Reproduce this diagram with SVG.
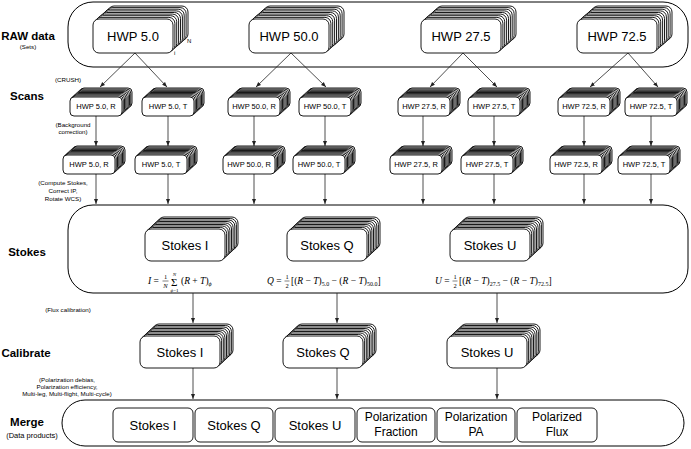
<svg xmlns="http://www.w3.org/2000/svg" xmlns:xlink="http://www.w3.org/1999/xlink" width="691" height="449" viewBox="0 0 691 449">
<style>
text{font-family:"Liberation Sans",Arial,sans-serif;fill:#000}
.title{font-weight:bold;font-size:11.5px;text-anchor:middle}
.note{font-size:6.2px;text-anchor:middle}
.big{font-size:13px;text-anchor:middle}
.mid{font-size:12px;text-anchor:middle}
.small{font-size:7.5px;text-anchor:middle}
.math{font-family:"Liberation Serif","Times New Roman",serif;font-size:9.5px}
.it{font-style:italic}
.box{fill:#fff;stroke:#000;stroke-width:0.9}
.cont{fill:none;stroke:#000;stroke-width:1}
.arrow{stroke:#222;stroke-width:0.8;fill:none;marker-end:url(#ah)}
.frac{stroke:#000;stroke-width:0.5}
</style>
<defs>
<marker id="ah" viewBox="0 0 10 10" refX="10" refY="5" markerWidth="5" markerHeight="5" markerUnits="userSpaceOnUse" orient="auto">
<path d="M0,1 L10,5 L0,9 z" fill="#222"/>
</marker>
<g id="stkBig">
<rect class="box" x="15" y="-13" width="80" height="34" rx="6"/>
<rect class="box" x="13.1" y="-11.4" width="80" height="34" rx="6"/>
<rect class="box" x="11.2" y="-9.8" width="80" height="34" rx="6"/>
<rect class="box" x="9.4" y="-8.1" width="80" height="34" rx="6"/>
<rect class="box" x="7.5" y="-6.5" width="80" height="34" rx="6"/>
<rect class="box" x="5.6" y="-4.9" width="80" height="34" rx="6"/>
<rect class="box" x="3.7" y="-3.3" width="80" height="34" rx="6"/>
<rect class="box" x="1.9" y="-1.6" width="80" height="34" rx="6"/>
<rect class="box" x="0" y="0" width="80" height="34" rx="6"/>
</g>
<g id="stkStokes">
<rect class="box" x="13" y="-12" width="80" height="32" rx="6"/>
<rect class="box" x="11.4" y="-10.5" width="80" height="32" rx="6"/>
<rect class="box" x="9.8" y="-9" width="80" height="32" rx="6"/>
<rect class="box" x="8.1" y="-7.5" width="80" height="32" rx="6"/>
<rect class="box" x="6.5" y="-6" width="80" height="32" rx="6"/>
<rect class="box" x="4.9" y="-4.5" width="80" height="32" rx="6"/>
<rect class="box" x="3.3" y="-3" width="80" height="32" rx="6"/>
<rect class="box" x="1.6" y="-1.5" width="80" height="32" rx="6"/>
<rect class="box" x="0" y="0" width="80" height="32" rx="6"/>
</g>
<g id="stkSmall">
<rect class="box" x="10" y="-9" width="52" height="19" rx="4"/>
<rect class="box" x="8.75" y="-7.9" width="52" height="19" rx="4"/>
<rect class="box" x="7.5" y="-6.75" width="52" height="19" rx="4"/>
<rect class="box" x="6.25" y="-5.6" width="52" height="19" rx="4"/>
<rect class="box" x="5" y="-4.5" width="52" height="19" rx="4"/>
<rect class="box" x="3.75" y="-3.4" width="52" height="19" rx="4"/>
<rect class="box" x="2.5" y="-2.25" width="52" height="19" rx="4"/>
<rect class="box" x="1.25" y="-1.1" width="52" height="19" rx="4"/>
<rect class="box" x="0" y="0" width="52" height="19" rx="4"/>
</g>
</defs>

<!-- stage labels -->
<g id="labels">
<text class="title" x="28" y="40">RAW data</text>
<text class="note" x="28" y="49">(Sets)</text>
<text class="note" x="68" y="82">(CRUSH)</text>
<text class="title" x="27" y="100">Scans</text>
<text class="note" x="73" y="127">(Background</text>
<text class="note" x="73" y="134">correction)</text>
<text class="note" x="63" y="185">(Compute Stokes,</text>
<text class="note" x="63" y="193">Correct IP,</text>
<text class="note" x="63" y="201">Rotate WCS)</text>
<text class="title" x="27" y="256">Stokes</text>
<text class="note" x="68" y="312">(Flux calibration)</text>
<text class="title" x="26" y="357">Calibrate</text>
<text class="note" x="67" y="382">(Polarization debias,</text>
<text class="note" x="67" y="389">Polarization efficiency,</text>
<text class="note" x="67" y="396">Multi-leg, Multi-flight, Multi-cycle)</text>
<text class="title" x="27" y="426">Merge</text>
<text class="note" x="32" y="437.5" style="font-size:7.5px">(Data products)</text>
</g>

<!-- containers -->
<g id="raw-container"><rect class="cont" x="68" y="2" width="620" height="65" rx="25"/></g>
<g id="stokes-container"><rect class="cont" x="68" y="205" width="620" height="88" rx="25"/></g>
<g id="merge-container"><rect class="cont" x="62" y="400" width="622" height="46" rx="23"/></g>

<!-- connectors -->
<g id="connectors">
<path class="arrow" d="M135,53 L100,87"/>
<path class="arrow" d="M135,53 L167,87"/>
<path class="arrow" d="M291,53 L256,87"/>
<path class="arrow" d="M291,53 L326,87"/>
<path class="arrow" d="M463,53 L430,87"/>
<path class="arrow" d="M463,53 L497,87"/>
<path class="arrow" d="M628,53 L590,87"/>
<path class="arrow" d="M628,53 L658,87"/>
<path class="arrow" d="M96,116 V146"/>
<path class="arrow" d="M168,116 V146"/>
<path class="arrow" d="M254,116 V146"/>
<path class="arrow" d="M325,116 V146"/>
<path class="arrow" d="M423,116 V146"/>
<path class="arrow" d="M494,116 V146"/>
<path class="arrow" d="M584,116 V146"/>
<path class="arrow" d="M651,116 V146"/>
<path class="arrow" d="M96,174 V204"/>
<path class="arrow" d="M168,174 V204"/>
<path class="arrow" d="M254,174 V204"/>
<path class="arrow" d="M325,174 V204"/>
<path class="arrow" d="M423,174 V204"/>
<path class="arrow" d="M494,174 V204"/>
<path class="arrow" d="M584,174 V204"/>
<path class="arrow" d="M651,174 V204"/>
<path class="arrow" d="M193,293 V323"/>
<path class="arrow" d="M337,293 V323"/>
<path class="arrow" d="M497,293 V323"/>
<path class="arrow" d="M193,368 V399"/>
<path class="arrow" d="M337,368 V399"/>
<path class="arrow" d="M497,368 V399"/>
</g>

<!-- RAW nodes -->
<g id="raw-hwp5"><use xlink:href="#stkBig" x="93" y="19"/><text class="big" x="133" y="41">HWP 5.0</text>
<text x="187" y="43" style="font-size:6px">N</text><text x="174" y="55" style="font-size:6px">i</text></g>
<g id="raw-hwp50"><use xlink:href="#stkBig" x="249" y="19"/><text class="big" x="289" y="41">HWP 50.0</text></g>
<g id="raw-hwp27"><use xlink:href="#stkBig" x="421" y="19"/><text class="big" x="461" y="41">HWP 27.5</text></g>
<g id="raw-hwp72"><use xlink:href="#stkBig" x="577" y="19"/><text class="big" x="617" y="41">HWP 72.5</text></g>

<!-- Scans row 1 -->
<g id="scan-5R"><use xlink:href="#stkSmall" x="70" y="97"/><text class="small" x="96" y="109.2">HWP 5.0, R</text></g>
<g id="scan-5T"><use xlink:href="#stkSmall" x="142" y="97"/><text class="small" x="168" y="109.2">HWP 5.0, T</text></g>
<g id="scan-50R"><use xlink:href="#stkSmall" x="228" y="97"/><text class="small" x="254" y="109.2">HWP 50.0, R</text></g>
<g id="scan-50T"><use xlink:href="#stkSmall" x="299" y="97"/><text class="small" x="325" y="109.2">HWP 50.0, T</text></g>
<g id="scan-27R"><use xlink:href="#stkSmall" x="398" y="97"/><text class="small" x="424" y="109.2">HWP 27.5, R</text></g>
<g id="scan-27T"><use xlink:href="#stkSmall" x="468" y="97"/><text class="small" x="494" y="109.2">HWP 27.5, T</text></g>
<g id="scan-72R"><use xlink:href="#stkSmall" x="558" y="97"/><text class="small" x="584" y="109.2">HWP 72.5, R</text></g>
<g id="scan-72T"><use xlink:href="#stkSmall" x="625" y="97"/><text class="small" x="651" y="109.2">HWP 72.5, T</text></g>

<!-- Scans row 2 (background corrected) -->
<g id="bg-5R"><use xlink:href="#stkSmall" x="63" y="155"/><text class="small" x="89" y="167.2">HWP 5.0, R</text></g>
<g id="bg-5T"><use xlink:href="#stkSmall" x="135" y="155"/><text class="small" x="161" y="167.2">HWP 5.0, T</text></g>
<g id="bg-50R"><use xlink:href="#stkSmall" x="223" y="155"/><text class="small" x="249" y="167.2">HWP 50.0, R</text></g>
<g id="bg-50T"><use xlink:href="#stkSmall" x="293" y="155"/><text class="small" x="319" y="167.2">HWP 50.0, T</text></g>
<g id="bg-27R"><use xlink:href="#stkSmall" x="390" y="155"/><text class="small" x="416" y="167.2">HWP 27.5, R</text></g>
<g id="bg-27T"><use xlink:href="#stkSmall" x="461" y="155"/><text class="small" x="487" y="167.2">HWP 27.5, T</text></g>
<g id="bg-72R"><use xlink:href="#stkSmall" x="550" y="155"/><text class="small" x="576" y="167.2">HWP 72.5, R</text></g>
<g id="bg-72T"><use xlink:href="#stkSmall" x="618" y="155"/><text class="small" x="644" y="167.2">HWP 72.5, T</text></g>

<!-- Stokes -->
<g id="stokes-I"><use xlink:href="#stkStokes" x="145" y="229"/><text class="big" x="185" y="249.6">Stokes I</text></g>
<g id="stokes-Q"><use xlink:href="#stkStokes" x="287" y="229"/><text class="big" x="327" y="249.6">Stokes Q</text></g>
<g id="stokes-U"><use xlink:href="#stkStokes" x="450" y="229"/><text class="big" x="490" y="249.6">Stokes U</text></g>

<!-- formulas -->
<g id="formula-I">
<text class="math" x="148" y="284"><tspan class="it">I</tspan> =</text>
<text class="math" x="165.5" y="279" style="font-size:6.5px;text-anchor:middle">1</text>
<line class="frac" x1="162.5" y1="281" x2="168.5" y2="281"/>
<text class="math it" x="165.5" y="288" style="font-size:6.5px;text-anchor:middle">N</text>
<text class="math" x="171" y="285.5" style="font-size:11px">Σ</text>
<text class="math it" x="174.5" y="276" style="font-size:5px;text-anchor:middle">N</text>
<text class="math" x="174.5" y="292" style="font-size:5px;text-anchor:middle"><tspan class="it">ϕ</tspan>=1</text>
<text class="math" x="181" y="284">(<tspan class="it">R</tspan> + <tspan class="it">T</tspan>)<tspan class="it" style="font-size:6px" dy="2">ϕ</tspan></text>
</g>
<g id="formula-Q">
<text class="math" x="267" y="284"><tspan class="it">Q</tspan> =</text>
<text class="math" x="287" y="279" style="font-size:6.5px;text-anchor:middle">1</text>
<line class="frac" x1="284.5" y1="281" x2="289.5" y2="281"/>
<text class="math" x="287" y="288" style="font-size:6.5px;text-anchor:middle">2</text>
<text class="math" x="291" y="284">[(<tspan class="it">R</tspan> − <tspan class="it">T</tspan>)<tspan style="font-size:6px" dy="2">5.0</tspan><tspan dy="-2"> − (</tspan><tspan class="it">R</tspan> − <tspan class="it">T</tspan>)<tspan style="font-size:6px" dy="2">50.0</tspan><tspan dy="-2">]</tspan></text>
</g>
<g id="formula-U">
<text class="math" x="435" y="284"><tspan class="it">U</tspan> =</text>
<text class="math" x="455" y="279" style="font-size:6.5px;text-anchor:middle">1</text>
<line class="frac" x1="452.5" y1="281" x2="457.5" y2="281"/>
<text class="math" x="455" y="288" style="font-size:6.5px;text-anchor:middle">2</text>
<text class="math" x="459" y="284">[(<tspan class="it">R</tspan> − <tspan class="it">T</tspan>)<tspan style="font-size:6px" dy="2">27.5</tspan><tspan dy="-2"> − (</tspan><tspan class="it">R</tspan> − <tspan class="it">T</tspan>)<tspan style="font-size:6px" dy="2">72.5</tspan><tspan dy="-2">]</tspan></text>
</g>

<!-- Calibrate -->
<g id="cal-I"><use xlink:href="#stkStokes" x="140" y="336"/><text class="big" x="180" y="356.6">Stokes I</text></g>
<g id="cal-Q"><use xlink:href="#stkStokes" x="283" y="336"/><text class="big" x="323" y="356.6">Stokes Q</text></g>
<g id="cal-U"><use xlink:href="#stkStokes" x="447" y="336"/><text class="big" x="487" y="356.6">Stokes U</text></g>

<!-- Merge products -->
<g id="m-I"><rect class="box" x="113" y="408" width="80" height="34" rx="5"/><text class="big" x="153" y="429.6">Stokes I</text></g>
<g id="m-Q"><rect class="box" x="195" y="408" width="78" height="34" rx="5"/><text class="big" x="234" y="429.6">Stokes Q</text></g>
<g id="m-U"><rect class="box" x="275" y="408" width="80" height="34" rx="5"/><text class="big" x="315" y="429.6">Stokes U</text></g>
<g id="m-PF"><rect class="box" x="357" y="408" width="78" height="34" rx="5"/><text class="mid" x="396" y="421">Polarization</text><text class="mid" x="396" y="436">Fraction</text></g>
<g id="m-PA"><rect class="box" x="437" y="408" width="78" height="34" rx="5"/><text class="mid" x="476" y="421">Polarization</text><text class="mid" x="476" y="436">PA</text></g>
<g id="m-PFlux"><rect class="box" x="517" y="408" width="80" height="34" rx="5"/><text class="mid" x="557" y="421">Polarized</text><text class="mid" x="557" y="436">Flux</text></g>
</svg>
